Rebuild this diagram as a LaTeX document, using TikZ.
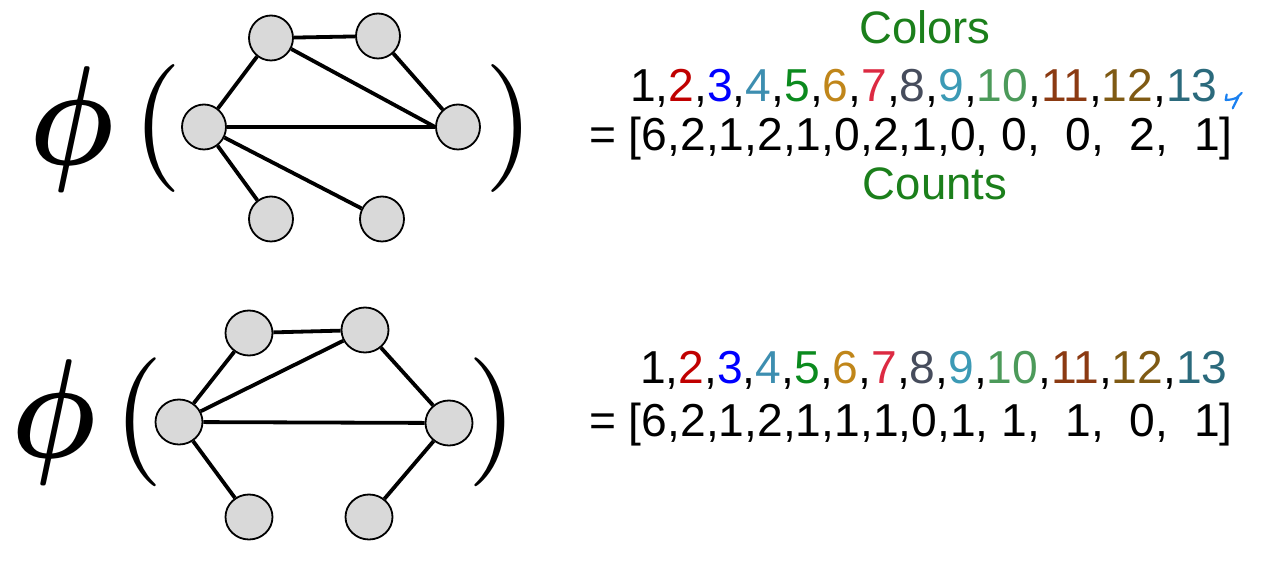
\documentclass[tikz,border=0pt]{standalone}
\usepackage{amsmath}
\usepackage{fontspec}
\setmainfont{Liberation Sans}
\usetikzlibrary{shapes.geometric}
\definecolor{cgreen}{HTML}{1B7F1B}
\definecolor{ctwo}{HTML}{C00000}
\definecolor{cthree}{HTML}{0000FF}
\definecolor{cfour}{HTML}{3D8EB0}
\definecolor{cfive}{HTML}{0B8A1E}
\definecolor{csix}{HTML}{C0861A}
\definecolor{cseven}{HTML}{DC2A42}
\definecolor{ceight}{HTML}{464C5C}
\definecolor{cnine}{HTML}{3C9AB5}
\definecolor{cten}{HTML}{4C9A5A}
\definecolor{celeven}{HTML}{8B3A12}
\definecolor{ctwelve}{HTML}{7F5A14}
\definecolor{cthirteen}{HTML}{2B6A7C}
\definecolor{nodegray}{HTML}{D9D9D9}
\definecolor{inkblue}{HTML}{1A80F0}
\newcommand{\colorrow}{1,\textcolor{ctwo}{2},\textcolor{cthree}{3},\textcolor{cfour}{4},\textcolor{cfive}{5},\textcolor{csix}{6},\textcolor{cseven}{7},\textcolor{ceight}{8},\textcolor{cnine}{9},\textcolor{cten}{10},\textcolor{celeven}{11},\textcolor{ctwelve}{12},\textcolor{cthirteen}{13}}
\tikzset{
  gnode/.style={ellipse, draw=black, line width=1.8pt, fill=nodegray, minimum width=44pt, minimum height=45pt, inner sep=0pt},
  gnodeb/.style={gnode, minimum width=47pt},
  gedge/.style={line width=3.8pt, black},
  txt/.style={font=\fontsize{46.2}{50}\selectfont, inner sep=0pt, anchor=base west},
  lbl/.style={font=\fontsize{45.5}{50}\selectfont, inner sep=0pt, anchor=base, text=cgreen},
  big/.style={inner sep=0pt, anchor=center}
}
\begin{document}
\begin{tikzpicture}[x=1pt,y=-1pt]
\useasboundingbox (0,0) rectangle (1278,572);
% ---- top graph ----
\node[big] (phiA) at (72,129.5) {\scalebox{11.9}[14.1]{$\boldsymbol{\phi}$}};
\node[big] (lpA) at (157,129) {\scalebox{12.8}{$($}};
\node[big] (rpA) at (509,129) {\scalebox{12.8}{$\mathbf{)}$}};
\node[gnode] (A) at (271,38) {};
\node[gnode] (B) at (378,36) {};
\node[gnode] (C) at (204,127) {};
\node[gnode] (D) at (458,127) {};
\node[gnode] (E) at (271,219) {};
\node[gnode] (F) at (382,219) {};
\draw[gedge] (A) -- (B);
\draw[gedge] (A) -- (C);
\draw[gedge] (A) -- (D.west);
\draw[gedge] (B) -- (D);
\draw[gedge] (C) -- (D);
\draw[gedge] (C) -- (E);
\draw[gedge] (C) -- (F);
% ---- top text ----
\node[lbl] (colorsA) at (925,44) {Colors};
\node[txt] (rowA1) at (630,102) {\colorrow};
\node[txt] (rowA2) at (589,151) {= [6,2,1,2,1,0,2,1,0,\ 0,\ \ 0,\ \ 2,\ \ 1]};
\node[lbl] (countsA) at (935,200) {Counts};
\draw[inkblue, line width=2.2pt, line cap=round, line join=round]
  (1226.7,94.5) -- (1225.7,100) .. controls (1232,99.5) .. (1236.7,97.7) -- (1241.7,93)
  (1238.5,96.5) -- (1232.7,108.3);
% ---- bottom graph ----
\node[big] (phiB) at (54,422.5) {\scalebox{11.9}[14.1]{$\boldsymbol{\phi}$}};
\node[big] (lpB) at (138.5,422.5) {\scalebox{12.9}{$($}};
\node[big] (rpB) at (492.5,422.5) {\scalebox{12.9}{$\mathbf{)}$}};
\node[gnodeb] (A2) at (249,333) {};
\node[gnodeb] (B2) at (365,330) {};
\node[gnodeb] (C2) at (179,422) {};
\node[gnodeb] (D2) at (449,423) {};
\node[gnodeb] (E2) at (249,517) {};
\node[gnodeb] (F2) at (369,517) {};
\draw[gedge] (A2) -- (B2);
\draw[gedge] (A2) -- (C2);
\draw[gedge] (B2) -- (C2);
\draw[gedge] (B2) -- (D2);
\draw[gedge] (C2) -- (D2);
\draw[gedge] (C2) -- (E2);
\draw[gedge] (D2) -- (F2);
% ---- bottom text ----
\node[txt] (rowB1) at (640,383) {\colorrow};
\node[txt] (rowB2) at (589,436) {= [6,2,1,2,1,1,1,0,1,\ 1,\ \ 1,\ \ 0,\ \ 1]};
\end{tikzpicture}
\end{document}
